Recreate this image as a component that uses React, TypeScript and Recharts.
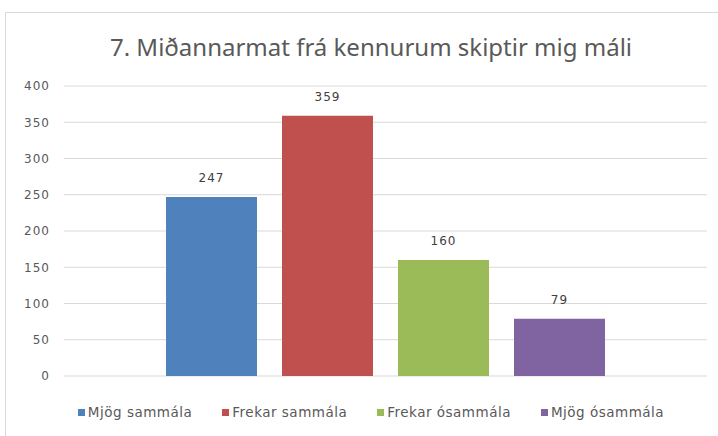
import { BarChart, Bar, XAxis, YAxis, CartesianGrid, Legend, LabelList } from 'recharts';

const SERIES_NAMES = ['Mjög sammála', 'Frekar sammála', 'Frekar ósammála', 'Mjög ósammála'];
const SERIES_VALUES = [247, 359, 160, 79];
const SERIES_COLORS = ['#4f81bd', '#c0504d', '#9bbb59', '#8064a2'];
const Y_TICKS = [0, 50, 100, 150, 200, 250, 300, 350, 400];
const TITLE = '7. Miðannarmat frá kennurum skiptir mig máli';

const TITLE_FONT = '"Noto Sans", "Open Sans", sans-serif';
const FONT = '"DejaVu Sans", "Noto Sans", sans-serif';

const row: Record<string, number | string> = { name: '' };
SERIES_NAMES.forEach((n, i) => {
    row[`s${i}`] = SERIES_VALUES[i];
});
const data = [row];

const renderLegend = () => (
    <div
        style={{
            display: 'flex',
            justifyContent: 'center',
            gap: 30,
            fontFamily: FONT,
            fontSize: 13.5,
            letterSpacing: 0.5,
            lineHeight: '20px',
            color: '#595959',
        }}
    >
        {SERIES_NAMES.map((n, i) => (
            <span key={n} style={{ display: 'flex', alignItems: 'center' }}>
                <span style={{ width: 7, height: 7, background: SERIES_COLORS[i], marginRight: 3 }} />
                {n}
            </span>
        ))}
    </div>
);

export default function App() {
    return (
        <div style={{ position: 'absolute', left: 0, top: 0, width: 718, height: 436, overflow: 'hidden', background: '#fff' }}>
            <div
                style={{
                    position: 'absolute',
                    left: 5,
                    top: 12,
                    width: 730,
                    height: 440,
                    border: '1px solid #d9d9d9',
                    boxSizing: 'border-box',
                }}
            >
                <div
                    style={{
                        position: 'absolute',
                        top: 17,
                        left: 0,
                        width: 730,
                        textAlign: 'center',
                        fontFamily: TITLE_FONT,
                        fontSize: 24,
                        color: '#595959',
                    }}
                >
                    {TITLE}
                </div>
                <BarChart
                    width={730}
                    height={424}
                    data={data}
                    margin={{ top: 73, right: 29, left: 0, bottom: 41 }}
                    barCategoryGap={102}
                    barGap={25}
                >
                    <CartesianGrid vertical={false} stroke="#d9d9d9" />
                    <XAxis dataKey="name" hide />
                    <YAxis
                        width={58}
                        domain={[0, 400]}
                        ticks={Y_TICKS}
                        axisLine={false}
                        tickLine={false}
                        tickMargin={8}
                        tick={{ fill: '#595959', fontSize: 12, fontFamily: FONT, letterSpacing: 1 }}
                    />
                    <Legend content={renderLegend} wrapperStyle={{ top: 389, left: 0, width: 730 }} />
                    {SERIES_NAMES.map((n, i) => (
                        <Bar key={n} dataKey={`s${i}`} name={n} fill={SERIES_COLORS[i]} isAnimationActive={false}>
                            <LabelList
                                dataKey={`s${i}`}
                                position="top"
                                offset={15}
                                fill="#404040"
                                fontSize={12}
                                fontFamily={FONT}
                                letterSpacing={1}
                            />
                        </Bar>
                    ))}
                </BarChart>
            </div>
        </div>
    );
}
